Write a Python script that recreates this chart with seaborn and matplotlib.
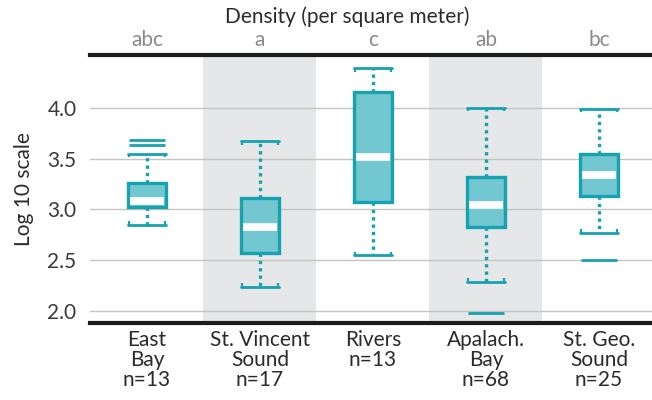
import matplotlib
matplotlib.use("Agg")
import matplotlib.pyplot as plt
import seaborn as sns
import pandas as pd

# ---- data ----
categories = ["East Bay", "St. Vincent Sound", "Rivers", "Apalach. Bay", "St. Geo. Sound"]
tick_labels = ["East\nBay\nn=13", "St. Vincent\nSound\nn=17", "Rivers\nn=13",
               "Apalach.\nBay\nn=68", "St. Geo.\nSound\nn=25"]
letters = ["abc", "a", "c", "ab", "bc"]
whisker_low = [2.85, 2.24, 2.55, 2.29, 2.77]
q1 = [3.02, 2.57, 3.07, 2.83, 3.13]
median = [3.08, 2.83, 3.52, 3.04, 3.34]
q3 = [3.26, 3.11, 4.16, 3.32, 3.55]
whisker_high = [3.55, 3.67, 4.39, 4.00, 3.99]
outlier_site = ["East Bay", "East Bay", "Apalach. Bay", "St. Geo. Sound"]
outlier_value = [3.63, 3.68, 1.98, 2.50]
yticks = [2.0, 2.5, 3.0, 3.5, 4.0]
shaded = ["St. Vincent Sound", "Apalach. Bay"]

# five-number summaries as samples (percentiles of 5 values reproduce them exactly)
rows = []
for i, c in enumerate(categories):
    for v in (whisker_low[i], q1[i], median[i], q3[i], whisker_high[i]):
        rows.append({"site": c, "value": v})
df = pd.DataFrame(rows)
out_df = pd.DataFrame({"site": outlier_site, "value": outlier_value})

sns.set_theme(style="white")
plt.rcParams["font.family"] = ["Lato", "DejaVu Sans"]

EDGE = "#16a2ae"
FACE = "#72c7d0"
FS = 15

fig = plt.figure(figsize=(6.52, 4.0), dpi=100)
ax = fig.add_axes([0.1388, 0.1933, 1.0 - 0.1388, 0.8625 - 0.1933])

for s in shaded:
    i = categories.index(s)
    ax.axvspan(i - 0.5, i + 0.5, color="#e6e7e8", lw=0, zorder=0.2)

sns.boxplot(data=df, x="site", y="value", order=categories, ax=ax,
            width=0.33, whis=(0, 100), showfliers=False,
            color=FACE, linecolor=EDGE, linewidth=2.2, saturation=1,
            boxprops=dict(facecolor=FACE, edgecolor=EDGE, linewidth=2.4),
            whiskerprops=dict(color=EDGE, linestyle=(0, (1.0, 1.2)), linewidth=2.4),
            capprops=dict(color=EDGE, linewidth=2.0),
            medianprops=dict(color="white", linewidth=5.5, solid_capstyle="butt"))

cont = ax.containers[0]
hw = 0.33 / 2
for cap in cont.caps:
    xs = cap.get_xdata()
    xc = (xs[0] + xs[1]) / 2
    cap.set_xdata([xc - hw, xc + hw])
    y = cap.get_ydata()[0]
    i = int(round(xc))
    d = -0.035 if y >= median[i] else 0.035
    for xe in (xc - hw + 0.006, xc + hw - 0.006):
        ax.plot([xe, xe], [y, y + d], color=EDGE, lw=1.6, solid_capstyle="butt", zorder=3)
for med in cont.medians:
    xs = med.get_xdata()
    xc = (xs[0] + xs[1]) / 2
    med.set_xdata([xc - hw + 0.018, xc + hw - 0.018])

sns.stripplot(data=out_df, x="site", y="value", order=categories, ax=ax,
              jitter=False, marker="_", size=26.5, linewidth=2.0,
              color=EDGE, edgecolor=EDGE, zorder=3)

ax.set_xlim(-0.5, 4.47)
ax.set_ylim(1.885, 4.52)
ax.set_yticks(yticks)
ax.set_yticklabels([f"{t:.1f}" for t in yticks])
ax.yaxis.grid(True, color="#c4c4c4", lw=1.0)
ax.set_axisbelow(True)
ax.set_xticks(range(len(categories)))
ax.set_xticklabels(tick_labels)
ax.tick_params(axis="x", length=0, pad=5, labelsize=FS, labelcolor="#2b2b2b")
ax.tick_params(axis="y", length=0, pad=10, labelsize=FS, labelcolor="#3a3a3a")
for t in ax.get_xticklabels():
    t.set_linespacing(1.0)
ax.set_xlabel("")
ax.set_ylabel("Log 10 scale", fontsize=FS, color="#2b2b2b", labelpad=10)

for side in ("left", "right"):
    ax.spines[side].set_visible(False)
for side in ("top", "bottom"):
    ax.spines[side].set_linewidth(3.0)
    ax.spines[side].set_color("#1c1c1c")

for i, lab in enumerate(letters):
    ax.text(i, 1.02, lab, transform=ax.get_xaxis_transform(), ha="center", va="bottom",
            fontsize=FS, color="#8a8a8a")
fig.text(0.532, 1 - 17 / 400, "Density (per square meter)", ha="center", va="center",
         fontsize=FS, color="#2b2b2b")

fig.savefig("out.png", dpi=100)
